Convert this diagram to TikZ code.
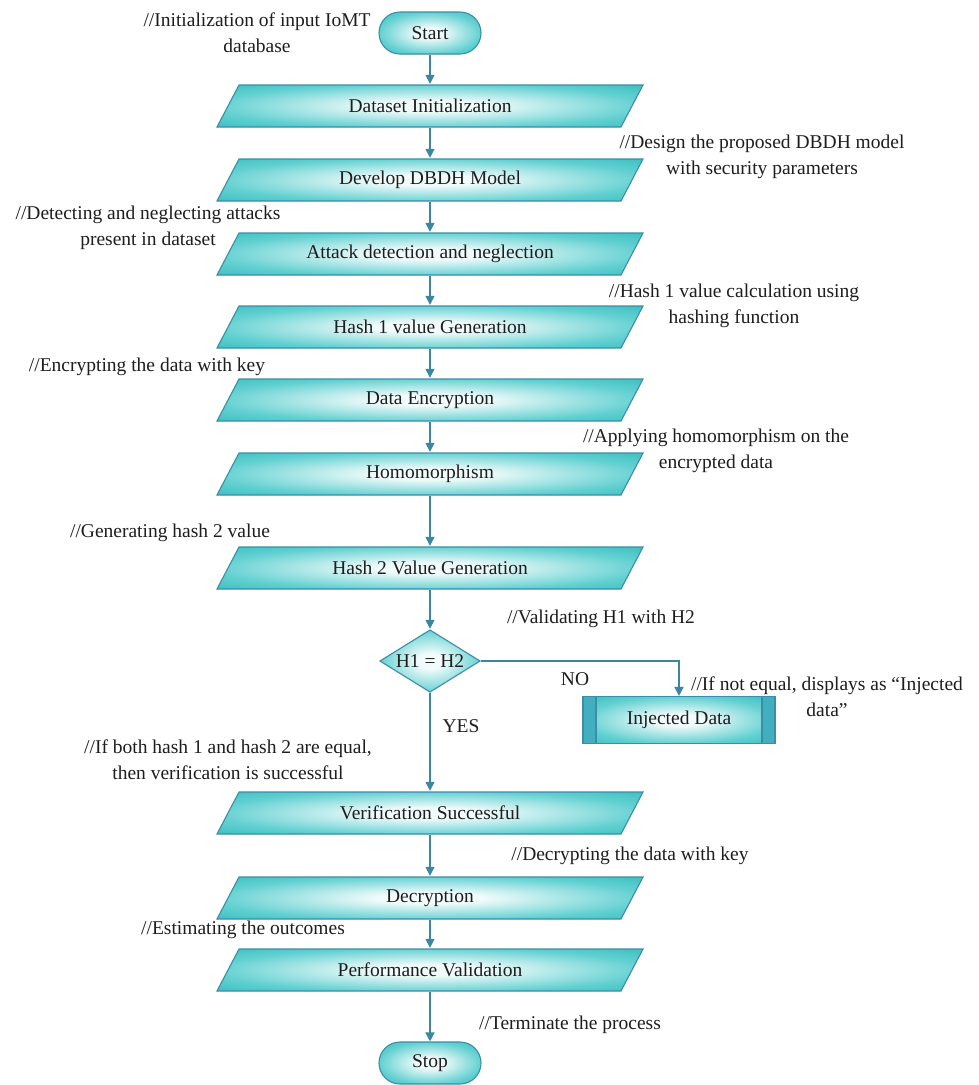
\documentclass[tikz,border=0pt]{standalone}
\usepackage{fontspec}
\setmainfont{Liberation Serif}
\usetikzlibrary{arrows.meta}

\definecolor{glow}{HTML}{F2FBFB}
\definecolor{tealmid}{HTML}{62D0D1}
\definecolor{tealedge}{HTML}{2DB8BB}
\definecolor{tealdark}{HTML}{3A9CB2}
\definecolor{rim}{HTML}{3A8EA6}
\definecolor{wire}{HTML}{3B87A2}
\definecolor{strip}{HTML}{42AEBE}
\definecolor{ink}{HTML}{1E1E1E}

% soft teal glow used by every box
\pgfdeclareradialshading{tealglow}{\pgfpoint{0bp}{0bp}}{%
  color(0bp)=(glow); color(6bp)=(glow); color(25bp)=(tealmid);
  color(39bp)=(tealedge); color(50bp)=(tealdark); color(71bp)=(tealdark)}

\tikzset{
  every node/.style={text=ink, font=\fontsize{19.5}{26}\selectfont},
  flow/.style={draw=wire, line width=1.4pt, -{Triangle[length=9pt,width=9pt]}},
  % parallelogram data box drawn inside its bounding rectangle
  paral/.style={minimum width=428pt, minimum height=44pt, inner sep=0pt,
    path picture={
      \shadedraw[shading=tealglow, draw=rim, line width=1.1pt]
        ([xshift=23pt,yshift=-1pt]path picture bounding box.north west)
        -- ([xshift=-1pt,yshift=-1pt]path picture bounding box.north east)
        -- ([xshift=-23pt,yshift=1pt]path picture bounding box.south east)
        -- ([xshift=1pt,yshift=1pt]path picture bounding box.south west)
        -- cycle;}},
  terminal/.style={minimum width=102pt, minimum height=42pt, inner sep=0pt,
    rounded corners=21pt, shading=tealglow, shade, draw=rim, line width=1.1pt},
  decision/.style={minimum width=102pt, minimum height=64pt, inner sep=0pt,
    path picture={
      \shadedraw[shading=tealglow, draw=rim, line width=1.1pt]
        ([yshift=-1pt]path picture bounding box.north)
        -- ([xshift=-1pt]path picture bounding box.east)
        -- ([yshift=1pt]path picture bounding box.south)
        -- ([xshift=1pt]path picture bounding box.west)
        -- cycle;}},
  process/.style={minimum width=192pt, minimum height=47pt, inner sep=0pt,
    shading=tealglow, shade, draw=rim, line width=1.1pt,
    path picture={
      \fill[strip] (path picture bounding box.north west) rectangle
        ([xshift=13pt]path picture bounding box.south west);
      \fill[strip] (path picture bounding box.north east) rectangle
        ([xshift=-13pt]path picture bounding box.south east);
      \draw[rim, line width=1.1pt]
        ([xshift=13pt]path picture bounding box.north west) --
        ([xshift=13pt]path picture bounding box.south west);
      \draw[rim, line width=1.1pt]
        ([xshift=-13pt]path picture bounding box.north east) --
        ([xshift=-13pt]path picture bounding box.south east);}},
  remark/.style={align=center, inner sep=0pt},
}

\begin{document}
\begin{tikzpicture}[x=1pt, y=-1pt]
\useasboundingbox[fill=white] (0,0) rectangle (979,1085);

% main column
\node[terminal] (start) at (430,33) {Start};
\node[paral] (init)   at (430,106) {Dataset Initialization};
\node[paral] (model)  at (430,180) {Develop DBDH Model};
\node[paral] (attack) at (430,254) {Attack detection and neglection};
\node[paral] (hashA)  at (430,327) {Hash 1 value Generation};
\node[paral] (enc)    at (430,400) {Data Encryption};
\node[paral] (homo)   at (430,474) {Homomorphism};
\node[paral] (hashB)  at (430,568) {Hash 2 Value Generation};
\node[decision] (check) at (430,661) {H1 = H2};
\node[process] (inj)  at (679,720) {Injected Data};
\node[paral] (verify) at (430,813) {Verification Successful};
\node[paral] (dec)    at (430,898) {Decryption};
\node[paral] (perf)   at (430,970) {Performance Validation};
\node[terminal] (stop) at (430,1063) {Stop};

% connectors
\draw[flow] (start) -- (init);
\draw[flow] (init) -- (model);
\draw[flow] (model) -- (attack);
\draw[flow] (attack) -- (hashA);
\draw[flow] (hashA) -- (enc);
\draw[flow] (enc) -- (homo);
\draw[flow] (homo) -- (hashB);
\draw[flow] (hashB) -- (check);
\draw[flow] (check.east) -| (inj.north);
\draw[flow] (check) -- (verify);
\draw[flow] (verify) -- (dec);
\draw[flow] (dec) -- (perf);
\draw[flow] (perf) -- (stop);

% branch labels
\node (no)  at (575,679) {NO};
\node (yes) at (461,726) {YES};

% comments
\node[remark] (r1)  at (257,33)  {//Initialization of input IoMT\\database};
\node[remark] (r2)  at (762,157) {//Design the proposed DBDH model\\with security parameters};
\node[remark] (r3)  at (148,228) {//Detecting and neglecting attacks\\present in dataset};
\node[remark] (r4)  at (734,306) {//Hash 1 value calculation using\\hashing function};
\node[remark] (r5)  at (147,367) {//Encrypting the data with key};
\node[remark] (r6)  at (716,451) {//Applying homomorphism on the\\encrypted data};
\node[remark] (r7)  at (170,533) {//Generating hash 2 value};
\node[remark] (r8)  at (601,619) {//Validating H1 with H2};
\node[remark] (r9)  at (827,697) {//If not equal, displays as “Injected\\data”};
\node[remark] (r10) at (228,760) {//If both hash 1 and hash 2 are equal,\\then verification is successful};
\node[remark] (r11) at (630,856) {//Decrypting the data with key};
\node[remark] (r12) at (243,930) {//Estimating the outcomes};
\node[remark] (r13) at (570,1025) {//Terminate the process};
\end{tikzpicture}
\end{document}
